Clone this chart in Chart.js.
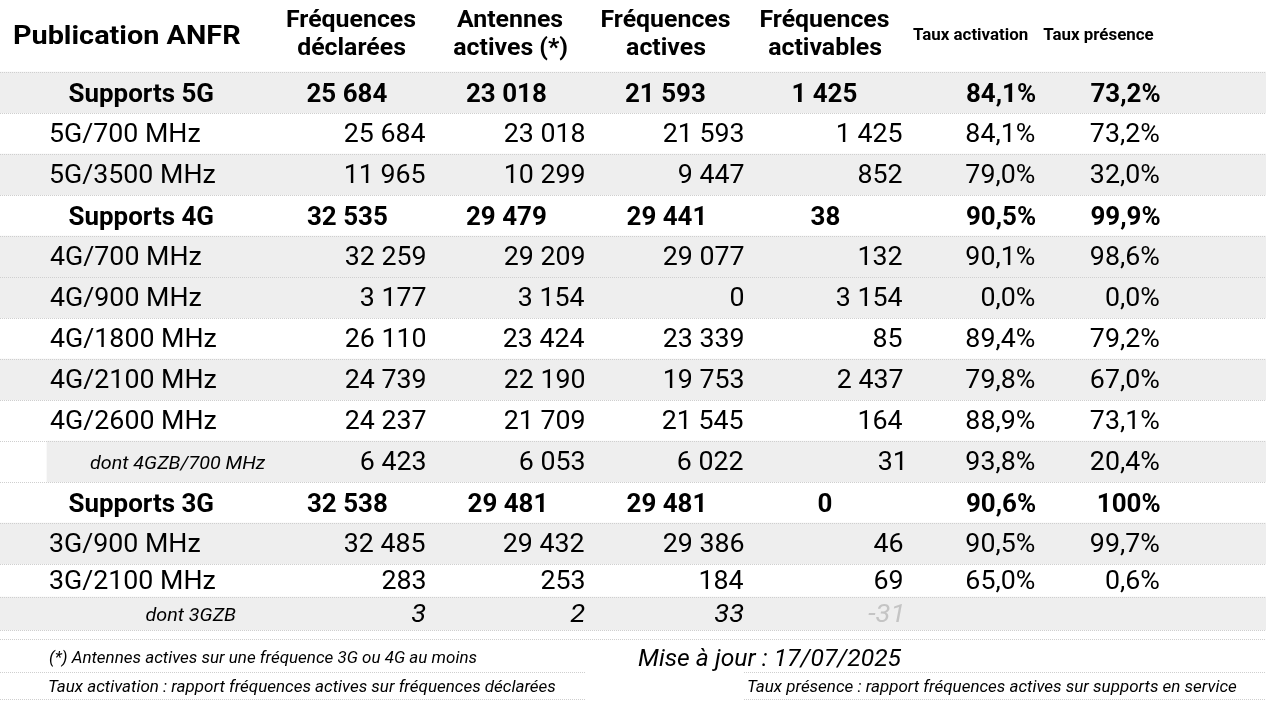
<!DOCTYPE html>
<html><head><meta charset="utf-8">
<script src="https://cdn.jsdelivr.net/npm/chart.js@4.4.1/dist/chart.umd.min.js"></script>
<style>html,body{margin:0;padding:0;background:#fff;overflow:hidden}#wrap{width:1266px;height:713px;position:relative}</style>
</head><body><div id="wrap"><canvas id="c" width="1266" height="713"></canvas></div>
<script>
// ---------------- DATA ----------------
const title = 'Publication ANFR';
const columnHeaders = [['Fréquences','déclarées'],['Antennes','actives (*)'],['Fréquences','actives'],['Fréquences','activables'],['Taux activation'],['Taux présence']];
const rowLabels = ['Supports 5G','5G/700 MHz','5G/3500 MHz','Supports 4G','4G/700 MHz','4G/900 MHz','4G/1800 MHz','4G/2100 MHz','4G/2600 MHz','dont 4GZB/700 MHz','Supports 3G','3G/900 MHz','3G/2100 MHz','dont 3GZB'];
const freqDeclarees   = [25684,25684,11965,32535,32259,3177,26110,24739,24237,6423,32538,32485,283,3];
const antennesActives = [23018,23018,10299,29479,29209,3154,23424,22190,21709,6053,29481,29432,253,2];
const freqActives     = [21593,21593,9447,29441,29077,0,23339,19753,21545,6022,29481,29386,184,33];
const freqActivables  = [1425,1425,852,38,132,3154,85,2437,164,31,0,46,69,-31];
const tauxActivation  = [84.1,84.1,79.0,90.5,90.1,0.0,89.4,79.8,88.9,93.8,90.6,90.5,65.0,null];
const tauxPresence    = [73.2,73.2,32.0,99.9,98.6,0.0,79.2,67.0,73.1,20.4,100,99.7,0.6,null];
const footnoteLeft  = ['(*) Antennes actives sur une fréquence 3G ou 4G au moins','Taux activation : rapport fréquences actives sur fréquences déclarées'];
const updateNote = 'Mise à jour : 17/07/2025';
const footnoteRight = 'Taux présence : rapport fréquences actives sur supports en service';

// ---------------- LAYOUT / STYLE ----------------
const W = 1266, H = 713;
const rowKind   = ['total','band','band','total','band','band','band','band','band','sub','total','band','band','subItalic'];
const rowShaded = [1,0,1,0,1,1,0,1,0,1,0,1,0,1];
const rowShadeX0= [0,0,0,0,0,0,0,0,0,47,0,0,0,0];
const rowHeight = [41,41,41,41,41,41,41,41,41,41,41,41,33,33];
const tableTop = 72;
const subLabelCenter = {9:178, 13:191};
const numRight = [425.5,584.5,743.5,902.5,1035,1159.5];
const boldCenter = [347,506,665,825];
const headerCenter = [351.5,510,666,825,970.5,1098.5];
const GRAY = '#eeeeee', LINE = '#cfcfcf', INK = '#000000', FAINT = '#c4c4c4';

const rowTops = []; { let t = tableTop; rowHeight.forEach(h => { rowTops.push(t); t += h; }); }
const rowCenter = i => rowTops[i] + rowHeight[i] / 2;

const fmtInt = v => { const s = Math.abs(v).toString().replace(/\B(?=(\d{3})+(?!\d))/g, ' '); return (v < 0 ? '-' : '') + s; };
const fmtPct = v => v === null ? '' : (v === 100 ? '100%' : v.toFixed(1).replace('.', ',') + '%');
const numCols = [freqDeclarees, antennesActives, freqActives, freqActivables];
const pctCols = [tauxActivation, tauxPresence];

// font styles with horizontal calibration (sample text, target ink width in px)
const styles = {
  title:   {font:'700 26px Roboto', sample:'Publication ANFR', w:227},
  header:  {font:'700 23.5px Roboto', sample:'Fréquences', w:129},
  hsmall:  {font:'700 16.5px Roboto', sample:'Taux activation', w:115},
  bold:    {font:'700 25.8px Roboto', sample:'25 684', w:81},
  reg:     {font:'400 25px Roboto', sample:'25 684', w:80.7},
  regIt:   {font:'italic 400 25px Roboto', sample:'25 684', w:80.7},
  subLab:  {font:'italic 400 17.5px Roboto', sample:'dont 4GZB/700 MHz', w:176},
  foot:    {font:'italic 400 16px Roboto', sample:'(*) Antennes actives sur une fréquence 3G ou 4G au moins', w:428},
  date:    {font:'italic 400 24px Roboto', sample:'Mise à jour : 17/07/2025', w:264}
};
function calibrate(ctx){
  for (const k in styles){ const s = styles[k]; ctx.font = s.font; const m = ctx.measureText(s.sample);
    const ink = m.actualBoundingBoxLeft + m.actualBoundingBoxRight; s.sx = s.w / ink; }
}
function drawText(ctx, txt, x, y, st, align, color){
  const s = styles[st]; ctx.save(); ctx.font = s.font; ctx.fillStyle = color || INK; ctx.textBaseline = 'alphabetic'; ctx.textAlign = 'left';
  const m = ctx.measureText(txt); const l = m.actualBoundingBoxLeft, r = m.actualBoundingBoxRight; const ink = (l + r) * s.sx;
  let left = align === 'left' ? x : align === 'right' ? x - ink : x - ink / 2;
  ctx.translate(left + l * s.sx, y); ctx.scale(s.sx, 1); ctx.fillText(txt, 0, 0); ctx.restore();
}
function dotted(ctx, x0, x1, y){
  ctx.save(); ctx.strokeStyle = LINE; ctx.lineWidth = 1; ctx.setLineDash([1,1]);
  ctx.beginPath(); ctx.moveTo(x0, Math.round(y) + 0.5); ctx.lineTo(x1, Math.round(y) + 0.5); ctx.stroke(); ctx.restore();
}

// band datasets (shaded rows) built from the row list
function bandData(h){ return rowLabels.map((lab, i) => (rowShaded[i] && rowHeight[i] === h) ? {y: rowCenter(i), x: [rowShadeX0[i], W], label: lab} : null).filter(Boolean); }

const tablePlugin = {
  id: 'tableText',
  afterDatasetsDraw(chart){
    const ctx = chart.ctx, xs = chart.scales.x, ys = chart.scales.y;
    if (!styles.reg.sx) calibrate(ctx);
    const X = v => xs.getPixelForValue(v), Y = v => ys.getPixelForValue(v);
    // separators
    for (let i = 0; i <= rowLabels.length; i++){
      const yv = i < rowLabels.length ? rowTops[i] : rowTops[i-1] + rowHeight[i-1];
      dotted(ctx, X(0), X(W), Y(yv));
    }
    dotted(ctx, X(0), X(W), Y(639));
    [672, 699].forEach(v => { dotted(ctx, X(0), X(586), Y(v)); dotted(ctx, X(744), X(W), Y(v)); });
    // header
    drawText(ctx, title, X(14), Y(44.3), 'title', 'left');
    columnHeaders.forEach((lines, c) => {
      if (lines.length === 2){ drawText(ctx, lines[0], X(headerCenter[c]), Y(27), 'header', 'center'); drawText(ctx, lines[1], X(headerCenter[c]), Y(55), 'header', 'center'); }
      else drawText(ctx, lines[0], X(headerCenter[c]), Y(40), 'hsmall', 'center');
    });
    // rows
    rowLabels.forEach((lab, i) => {
      const k = rowKind[i], top = rowTops[i], h = rowHeight[i];
      if (k === 'total'){
        const b = top + 29.7;
        drawText(ctx, lab, X(141), Y(b), 'bold', 'center');
        numCols.forEach((col, c) => drawText(ctx, fmtInt(col[i]), X(boldCenter[c]), Y(b), 'bold', 'center'));
        pctCols.forEach((col, c) => drawText(ctx, fmtPct(col[i]), X(numRight[4 + c]), Y(b), 'bold', 'right'));
      } else {
        const b = top + h / 2 + 8.6;
        if (k === 'band') drawText(ctx, lab, X(50), Y(b), 'reg', 'left');
        else drawText(ctx, lab, X(subLabelCenter[i]), Y(b - 1.5), 'subLab', 'center');
        const numStyle = k === 'subItalic' ? 'regIt' : 'reg';
        numCols.forEach((col, c) => {
          const color = (k === 'subItalic' && col[i] < 0) ? FAINT : INK;
          drawText(ctx, fmtInt(col[i]), X(numRight[c]), Y(b), numStyle, 'right', color);
        });
        pctCols.forEach((col, c) => { const t = fmtPct(col[i]); if (t) drawText(ctx, t, X(numRight[4 + c]), Y(b), 'reg', 'right'); });
      }
    });
    // footer
    drawText(ctx, footnoteLeft[0], X(49), Y(662.5), 'foot', 'left');
    drawText(ctx, footnoteLeft[1], X(49), Y(691.5), 'foot', 'left');
    drawText(ctx, updateNote, X(638), Y(665.5), 'date', 'left');
    drawText(ctx, footnoteRight, X(748), Y(691.5), 'foot', 'left');
  }
};

new Chart(document.getElementById('c'), {
  type: 'bar',
  data: { datasets: [
    { label: 'rows41', data: bandData(41), backgroundColor: GRAY, borderWidth: 0, barThickness: 41, grouped: false },
    { label: 'rows33', data: bandData(33), backgroundColor: GRAY, borderWidth: 0, barThickness: 33, grouped: false }
  ]},
  options: {
    indexAxis: 'y', responsive: false, animation: false, devicePixelRatio: 1,
    layout: { padding: 0 },
    scales: {
      x: { type: 'linear', min: 0, max: W, display: false, offset: false, grace: 0 },
      y: { type: 'linear', min: 0, max: H, reverse: true, display: false, offset: false, grace: 0 }
    },
    plugins: { legend: { display: false }, tooltip: { enabled: false }, title: { display: false } }
  },
  plugins: [tablePlugin]
});
</script></body></html>
